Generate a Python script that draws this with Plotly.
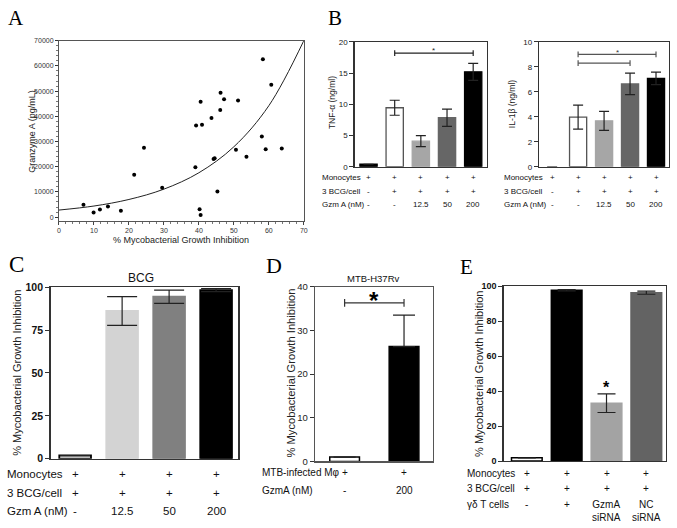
import plotly.graph_objects as go

W, H = 677, 528

# ---------------- data ----------------
# Panel A: scatter + fitted curve
a_inhibition = [7.0, 9.9, 11.7, 14.0, 17.7, 21.5, 24.3, 29.5, 39.0, 39.2, 40.2, 40.5, 40.5, 40.9,
                43.6, 44.2, 44.5, 45.3, 46.1, 46.2, 47.2, 50.6, 51.2, 53.6, 58.0, 58.3, 59.1, 60.7, 63.7]
a_granzyme = [4900, 1800, 3000, 4200, 2500, 16800, 27500, 11600, 19800, 36300, 3100, 800, 45800, 36600,
              39300, 23100, 23400, 10200, 42500, 49300, 46800, 26700, 46300, 23900, 32000, 62600, 26900, 52500, 27200]
a_fit_x = [0, 10, 20, 30, 40, 50, 60, 70]
a_fit_y = [2800, 4400, 7000, 11100, 17600, 27900, 44200, 70000]

# Panel B
b_rows = ["Monocytes", "3 BCG/cell", "Gzm A (nM)"]
b_row_vals = [["+", "+", "+", "+", "+"],
              ["-", "+", "+", "+", "+"],
              ["-", "-", "12.5", "50", "200"]]
tnf_mean = [0.4, 9.45, 4.1, 7.85, 15.2]
tnf_sem = [None, 1.2, 0.88, 1.38, 1.35]
il1b_mean = [0, 3.97, 3.68, 6.63, 7.08]
il1b_sem = [None, 0.96, 0.76, 0.86, 0.5]
b_colors = ["#000000", "#ffffff", "#a6a6a6", "#666666", "#000000"]
b_edges = ["#000000", "#555555", "#a6a6a6", "#666666", "#000000"]
b2_edges = ["rgba(0,0,0,0)", "#555555", "#a6a6a6", "#666666", "#000000"]

# Panel C
c_rows = ["Monocytes", "3 BCG/cell", "Gzm A (nM)"]
c_row_vals = [["+", "+", "+", "+"],
              ["+", "+", "+", "+"],
              ["-", "12.5", "50", "200"]]
bcg_mean = [1.9, 86.1, 94.4, 98.3]
bcg_sem = [None, 8.4, 3.9, 0.9]
c_colors = ["#ffffff", "#d3d3d3", "#808080", "#000000"]
c_edges = ["#000000", "#d3d3d3", "#808080", "#000000"]

# Panel D
d_rows = ["MTB-infected M\u03c6", "GzmA (nM)"]
d_row_vals = [["+", "+"], ["-", "200"]]
mtb_mean = [1.0, 26.3]
mtb_sem = [None, 7.2]
d_colors = ["#ffffff", "#000000"]
d_edges = ["#000000", "#000000"]

# Panel E
e_rows = ["Monocytes", "3 BCG/cell", "\u03b3\u03b4 T cells"]
e_row_vals = [["+", "+", "+", "+"],
              ["+", "+", "+", "+"],
              ["-", "+", "GzmA<br>siRNA", "NC<br>siRNA"]]
gd_mean = [1.9, 97.7, 33.1, 96.3]
gd_sem = [None, 0.4, 5.3, 0.9]
e_colors = ["#ffffff", "#000000", "#a3a3a3", "#636363"]
e_edges = ["#000000", "#000000", "#a3a3a3", "#636363"]

SANS = "Arial, Liberation Sans, sans-serif"
SERIF = "Times New Roman, Liberation Serif, serif"


def xp(p):
    return p / W


def yp(p):
    return 1 - p / H


fig = go.Figure()
annotations = []
shapes = []

# ---------------- Panel A ----------------
fig.add_trace(go.Scatter(x=a_fit_x, y=a_fit_y, mode="lines", line=dict(color="#222", width=1, shape="spline"),
                         xaxis="x", yaxis="y", showlegend=False, hoverinfo="skip"))
fig.add_trace(go.Scatter(x=a_inhibition, y=a_granzyme, mode="markers",
                         marker=dict(color="#000", size=4), xaxis="x", yaxis="y", showlegend=False))


def bar_trace(xa, ya, means, sems, colors, edges, width, cap, edge_w=1.3):
    return go.Bar(x=list(range(len(means))), y=means, width=width, xaxis=xa, yaxis=ya, showlegend=False,
                  marker=dict(color=colors, line=dict(color=edges, width=edge_w)),
                  error_y=dict(type="data", array=sems, color="#222", thickness=1.2, width=cap))


fig.add_trace(bar_trace("x2", "y2", tnf_mean, tnf_sem, b_colors, b_edges, 0.66, 5))
fig.add_trace(bar_trace("x3", "y3", il1b_mean, il1b_sem, b_colors, b2_edges, 0.66, 5))
fig.add_trace(bar_trace("x4", "y4", bcg_mean, bcg_sem, c_colors, c_edges, 0.675, 15, 1.8))
d_tr = bar_trace("x5", "y5", mtb_mean, mtb_sem, d_colors, d_edges, 0.5, 11, 1.5)
d_tr.error_y.update(symmetric=False, arrayminus=[None, 0])
fig.add_trace(d_tr)
fig.add_trace(bar_trace("x6", "y6", gd_mean, gd_sem, e_colors, e_edges, 0.77, 9, 1.5))


def xaxis_cfg(dom, rng, anchor, **kw):
    d = dict(domain=[xp(dom[0]), xp(dom[1])], range=rng, anchor=anchor, showline=True, mirror=True,
             linecolor="#333", linewidth=1.2, showgrid=False, zeroline=False, showticklabels=False, ticks="",
             fixedrange=True)
    d.update(kw)
    return d


def yaxis_cfg(dom, rng, anchor, dtick, font, **kw):
    d = dict(domain=[yp(dom[1]), yp(dom[0])], range=rng, anchor=anchor, showline=True, mirror=True,
             linecolor="#333", linewidth=1.2, showgrid=False, zeroline=False, ticks="outside", ticklen=4,
             tickcolor="#333", dtick=dtick, tick0=0, tickfont=font, fixedrange=True)
    d.update(kw)
    return d


layout_axes = dict(
    xaxis=xaxis_cfg((57.5, 304.5), [0, 70], "y", showticklabels=True, ticks="outside", ticklen=3, dtick=10,
                    tickfont=dict(family=SANS, size=7, color="#333"), linecolor="#555", linewidth=1,
                    minor=dict(ticks="outside", ticklen=2, dtick=2, tickcolor="#777")),
    yaxis=yaxis_cfg((35.5, 219.5), [-1350, 70000], "x", 10000, dict(family=SANS, size=7, color="#333"),
                    tickformat="d", ticklen=3, linecolor="#555", linewidth=1,
                    minor=dict(ticks="outside", ticklen=2, dtick=2000, tickcolor="#777")),
    xaxis2=xaxis_cfg((355.7, 489), [-0.534, 4.515], "y2"),
    yaxis2=yaxis_cfg((36.7, 164.5), [0, 20], "x2", 5, dict(family=SANS, size=8, color="#222")),
    xaxis3=xaxis_cfg((541.7, 672.7), [-0.51, 4.49], "y3"),
    yaxis3=yaxis_cfg((36.7, 164.5), [0, 10], "x3", 2, dict(family=SANS, size=8, color="#222")),
    xaxis4=xaxis_cfg((49, 238.3), [-0.523, 3.47], "y4", linewidth=1.4),
    yaxis4=yaxis_cfg((287.7, 463.3), [0, 100], "x4", 25, dict(family=SANS, size=10.5, color="#111", weight="bold"),
                     linewidth=1.4),
    xaxis5=xaxis_cfg((315.7, 435), [-0.5, 1.49], "y5", linecolor="#555"),
    yaxis5=yaxis_cfg((287.3, 466), [0, 40], "x5", 10, dict(family=SANS, size=9.5, color="#222"),
                     linecolor="#555"),
    xaxis6=xaxis_cfg((506, 670), [-0.585, 3.495], "y6"),
    yaxis6=yaxis_cfg((286.7, 465.7), [0, 100], "x6", 20, dict(family=SANS, size=9, color="#111", weight="bold")),
)


def ann(text, x, y, size, family=SANS, xref="paper", yref="paper", xanchor="center", yanchor="middle",
        angle=0, color="#111", bold=False):
    annotations.append(dict(text=text, x=x, y=y, xref=xref, yref=yref, xanchor=xanchor, yanchor=yanchor,
                            textangle=angle, showarrow=False,
                            font=dict(family=family, size=size, color=color, weight="bold" if bold else "normal")))


# panel letters
for letter, cx, cy, sz in [("A", 14.5, 12, 21), ("B", 335.5, 12, 21), ("C", 15, 264, 23),
                           ("D", 274, 265.5, 22), ("E", 468.5, 267, 21)]:
    ann(letter, xp(cx), yp(cy), sz, family=SERIF, color="#000")

# Panel A titles
ann("Granzyme A (pg/mL)", xp(30), yp(128), 9, angle=-90, color="#222")
ann("% Mycobacterial Growth Inhibition", xp(181), yp(239.5), 9, color="#222")

# Panel B titles
ann("TNF-\u03b1 (ng/ml)", xp(332.3), yp(99), 8.5, angle=-90, color="#222")
ann("IL-1\u03b2 (ng/ml)", xp(514), yp(100), 8.5, angle=-90, color="#222")

# Panel C/D/E titles
ann("BCG", xp(140), yp(278.5), 12, color="#111")
ann("% Mycobacterial Growth Inhibition", xp(15), yp(375.5), 11, angle=-90, color="#222")
ann("MTB-H37Rv", xp(375), yp(278.5), 9.5, color="#111")
ann("% Mycobacterial Growth Inhibition", xp(291.7), yp(376), 11.2, angle=-90, color="#222")
ann("% Mycobacterial Growth Inhibition", xp(481.7), yp(376), 11, angle=-90, color="#222")


def row_table(rows, vals, xref, name_x, ys, size, family=SANS, multi_y=None):
    for r, (name, y) in enumerate(zip(rows, ys)):
        ann(name, xp(name_x), yp(y), size, family=family, xanchor="left", color="#111")
        for i, v in enumerate(vals[r]):
            if "<br>" in v and multi_y is not None:
                ann(v, i, yp(multi_y), size, family=family, xref=xref, color="#111")
            else:
                ann(v, i, yp(y), size, family=family, xref=xref, color="#111")


row_table(b_rows, b_row_vals, "x2", 320.7, [175, 189.5, 203.3], 8)
row_table(b_rows, b_row_vals, "x3", 504, [175, 189.5, 203.3], 8)
row_table(c_rows, c_row_vals, "x4", 2.7, [479.3, 498, 516.5], 11.5)
row_table(d_rows, d_row_vals, "x5", 260, [477, 495.5], 10)
row_table(e_rows, e_row_vals, "x6", 467.3, [478.5, 494.2, 510.5], 10, multi_y=516.5)


# significance brackets
def bracket(xref, yref, x0, x1, y, cap, color="#222", width=1.2):
    shapes.append(dict(type="line", xref=xref, yref=yref, x0=x0, x1=x1, y0=y, y1=y,
                       line=dict(color=color, width=width)))
    for xx in (x0, x1):
        shapes.append(dict(type="line", xref=xref, yref=yref, x0=xx, x1=xx, y0=y - cap, y1=y + cap,
                           line=dict(color=color, width=width)))


b_tnf_sig = [(1, 4, 18.2)]
b_il1b_sig = [(1, 4, 9.0), (1, 3, 8.3)]
d_sig = [(0, 1, 36.3)]
for x0, x1, y in b_tnf_sig:
    bracket("x2", "y2", x0, x1, y, 0.47)
for x0, x1, y in b_il1b_sig:
    bracket("x3", "y3", x0, x1, y, 0.23, color="#555")
for x0, x1, y in d_sig:
    bracket("x5", "y5", x0, x1, y, 0.9, color="#333")

ann("*", 2.5, yp(45.5), 8, xref="x2", color="#222")
ann("*", 2.5, yp(47.5), 8, xref="x3", color="#333")
ann("*", 0.5, yp(301), 24, xref="x5", color="#000", bold=True)
ann("*", 2, yp(390), 16, xref="x6", color="#000", bold=True)

fig.update_layout(
    width=W, height=H, margin=dict(l=0, r=0, t=0, b=0),
    paper_bgcolor="white", plot_bgcolor="white",
    annotations=annotations, shapes=shapes, bargap=0,
    font=dict(family=SANS),
    **layout_axes,
)

fig.write_html("out.html", config={"displayModeBar": False, "staticPlot": True},
               post_script="document.body.style.margin='0px';document.body.style.overflow='hidden';")
